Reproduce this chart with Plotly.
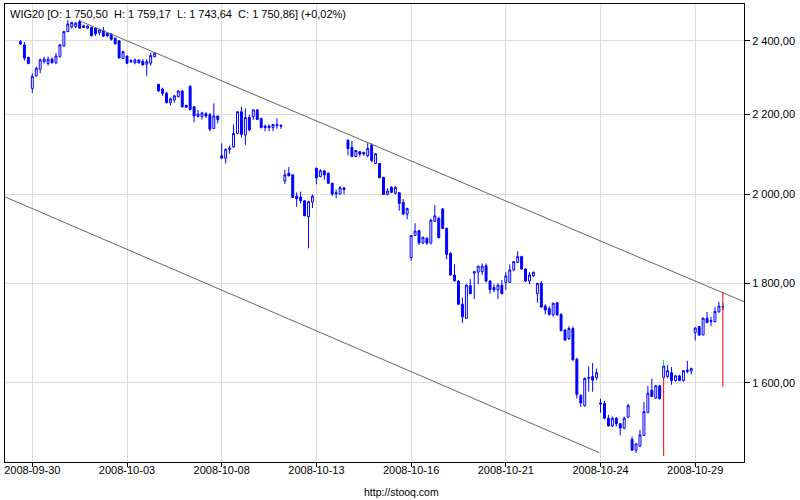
import math
import plotly.graph_objects as go

# ---- data: hourly WIG20 bars (index 0 = first bar of 2008-09-30, 8 bars per session) ----
bar_index = list(range(-3, 176))

open_ = [
    2397, 2388, 2353,
    2268, 2302, 2320, 2341, 2336, 2348, 2338, 2355,
    2385, 2426, 2440, 2440, 2455, 2438, 2436, 2438,
    2436, 2423, 2429, 2421, 2419, 2407, 2400, 2350,
    2357, 2344, 2338, 2346, 2342, 2334, 2337, 2355,
    2279, 2266, 2255, 2230, 2237, 2246, 2261, 2223,
    2273, 2219, 2194, 2193, 2201, 2198, 2163, 2195,
    2094, 2088, 2110, 2116, 2150, 2206, 2146, 2191,
    2193, 2211, 2189, 2169, 2169, 2165, 2170, 2171,
    2032, 2051, 2047, 1996, 1994, 1985, 1948, 1982,
    2063, 2043, 2057, 2051, 2027, 2004, 2001, 2016,
    2133, 2115, 2092, 2104, 2102, 2094, 2121, 2075,
    2075, 2041, 2000, 2017, 2003, 2004, 1981, 1954,
    1856, 1905, 1916, 1888, 1899, 1888, 1937, 1944,
    1966, 1921, 1865, 1818, 1805, 1756, 1727, 1795,
    1822, 1824, 1825, 1838, 1805, 1791, 1786, 1796,
    1802, 1802, 1829, 1845, 1858, 1831, 1805, 1816,
    1778, 1800, 1752, 1747, 1734, 1759, 1735, 1703,
    1686, 1706, 1645, 1576, 1557, 1608, 1612, 1610,
    1562, 1561, 1534, 1520, 1534, 1524, 1516, 1536,
    1496, 1477, 1484, 1503, 1544, 1586, 1571, 1594,
    1610, 1612, 1619, 1604, 1613, 1604, 1624, 1622,
    1698, 1710, 1693, 1727, 1720, 1720, 1740, 1750.50,
]

high_ = [
    2402, 2396, 2355,
    2309, 2327, 2350, 2355, 2355, 2353, 2365, 2390,
    2428, 2460, 2455, 2455, 2460, 2446, 2444, 2440,
    2438, 2433, 2439, 2423, 2421, 2409, 2400, 2371,
    2357, 2348, 2350, 2347, 2348, 2348, 2366, 2368,
    2280, 2270, 2259, 2244, 2250, 2264, 2264, 2224,
    2277, 2221, 2211, 2206, 2205, 2203, 2228, 2195,
    2125, 2112, 2119, 2173, 2208, 2219, 2215, 2198,
    2211, 2211, 2190, 2173, 2173, 2173, 2189, 2173,
    2059, 2066, 2049, 2005, 2007, 1987, 1985, 2000,
    2065, 2061, 2057, 2053, 2028, 2012, 2020, 2016,
    2135, 2131, 2108, 2104, 2104, 2125, 2125, 2101,
    2076, 2042, 2015, 2020, 2020, 2006, 1989, 1969,
    1906, 1933, 1918, 1902, 1901, 1944, 1975, 1948,
    1968, 1923, 1868, 1841, 1807, 1770, 1798, 1809,
    1826, 1838, 1843, 1843, 1807, 1798, 1800, 1807,
    1824, 1841, 1848, 1870, 1860, 1832, 1824, 1825,
    1801, 1805, 1756, 1752, 1759, 1760, 1737, 1705,
    1711, 1710, 1648, 1578, 1610, 1631, 1638, 1627,
    1570, 1566, 1540, 1537, 1536, 1525, 1537, 1560,
    1501, 1489, 1513, 1564, 1594, 1608, 1596, 1596,
    1632, 1634, 1630, 1615, 1615, 1624, 1642, 1629,
    1709, 1711, 1729, 1740, 1730, 1750, 1761, 1759.17,
]

low_ = [
    2388, 2344, 2334,
    2256, 2300, 2309, 2336, 2330, 2336, 2334, 2353,
    2383, 2426, 2434, 2436, 2436, 2436, 2434, 2412,
    2414, 2416, 2411, 2411, 2400, 2390, 2349, 2348,
    2334, 2338, 2334, 2336, 2331, 2302, 2330, 2353,
    2259, 2248, 2228, 2223, 2230, 2244, 2218, 2216,
    2209, 2179, 2191, 2186, 2190, 2155, 2161, 2176,
    2088, 2075, 2099, 2114, 2148, 2140, 2121, 2156,
    2185, 2185, 2163, 2155, 2156, 2156, 2162, 2162,
    2025, 2043, 1992, 1971, 1979, 1950, 1876, 1968,
    2024, 2041, 2035, 2025, 1996, 1991, 2000, 2000,
    2095, 2092, 2090, 2092, 2094, 2090, 2078, 2074,
    2040, 1999, 1998, 2003, 2000, 1962, 1952, 1942,
    1849, 1904, 1884, 1886, 1884, 1885, 1936, 1899,
    1921, 1852, 1816, 1805, 1754, 1717, 1726, 1777,
    1767, 1798, 1818, 1802, 1778, 1781, 1767, 1777,
    1786, 1801, 1826, 1845, 1829, 1803, 1798, 1814,
    1759, 1749, 1735, 1732, 1730, 1732, 1700, 1682,
    1683, 1642, 1570, 1555, 1555, 1583, 1583, 1605,
    1544, 1532, 1519, 1518, 1519, 1503, 1514, 1534,
    1476, 1472, 1483, 1502, 1544, 1573, 1570, 1568,
    1610, 1608, 1596, 1602, 1603, 1602, 1618, 1616,
    1682, 1691, 1693, 1717, 1711, 1719, 1739, 1743.64,
]

close_ = [
    2391, 2351, 2336,
    2301, 2323, 2346, 2348, 2348, 2338, 2357, 2388,
    2426, 2448, 2452, 2450, 2436, 2443, 2442, 2414,
    2419, 2431, 2413, 2414, 2404, 2391, 2352, 2369,
    2337, 2341, 2346, 2338, 2332, 2341, 2358, 2365,
    2261, 2255, 2230, 2240, 2248, 2261, 2219, 2218,
    2212, 2195, 2200, 2203, 2195, 2161, 2195, 2186,
    2088, 2110, 2113, 2150, 2206, 2148, 2191, 2159,
    2211, 2186, 2165, 2165, 2165, 2173, 2173, 2169,
    2047, 2045, 1993, 1990, 1985, 1950, 1983, 1996,
    2040, 2057, 2047, 2027, 2001, 2002, 2016, 2012,
    2112, 2092, 2107, 2098, 2098, 2112, 2082, 2099,
    2040, 2000, 2008, 2005, 2017, 1979, 1954, 1967,
    1905, 1915, 1888, 1901, 1888, 1940, 1950, 1900,
    1921, 1863, 1818, 1805, 1756, 1730, 1796, 1778,
    1825, 1837, 1837, 1805, 1787, 1786, 1796, 1778,
    1816, 1829, 1847, 1858, 1831, 1805, 1818, 1824,
    1800, 1750, 1744, 1735, 1758, 1734, 1702, 1683,
    1706, 1644, 1578, 1562, 1608, 1610, 1605, 1619,
    1560, 1534, 1520, 1534, 1524, 1516, 1534, 1557,
    1477, 1488, 1504, 1546, 1580, 1574, 1594, 1570,
    1632, 1623, 1604, 1613, 1604, 1623, 1622, 1627,
    1707, 1693, 1727, 1718, 1722, 1741, 1752, 1750.86,
]

assert len(open_) == len(high_) == len(low_) == len(close_) == len(bar_index)

# session starts shown on the time axis
day_start_index = [0, 24, 48, 72, 96, 120, 144, 168]
day_labels = ["2008-09-30", "2008-10-03", "2008-10-08", "2008-10-13",
              "2008-10-16", "2008-10-21", "2008-10-24", "2008-10-29"]

price_ticks = [1600, 1800, 2000, 2200, 2400]
price_tick_labels = ["1 600,00", "1 800,00", "2 000,00", "2 200,00", "2 400,00"]

# trend channel (bar index, price)
upper_trend_x = [12.1, 180.4]
upper_trend_y = [2456.7, 1761.2]
lower_trend_x = [-6.9, 143.7]
lower_trend_y = [1994.3, 1472.6]

# highlighted bars (green / red ticks)
mark_x = [160, 175]
green_lo = [1632, 1753]
green_hi = [1644, 1759]
red_lo = [1467, 1592]
red_hi = [1610, 1782]

x_range = [-6.92, 180.36]
y_range = [1456.4, 2506.7]

BLUE = "#0000ff"
FONT = "Liberation Sans, Arial, sans-serif"
TITLE_FONT = "Liberation Sans Narrow, Arial Narrow, Liberation Sans, sans-serif"

fig = go.Figure()

for tx, ty in ((upper_trend_x, upper_trend_y), (lower_trend_x, lower_trend_y)):
    fig.add_trace(go.Scatter(x=tx, y=ty, mode="lines",
                             line=dict(color="#666666", width=1),
                             hoverinfo="skip", showlegend=False))

fig.add_trace(go.Candlestick(
    x=bar_index, open=open_, high=high_, low=low_, close=close_,
    increasing=dict(line=dict(color=BLUE, width=1), fillcolor="#ffffff"),
    decreasing=dict(line=dict(color=BLUE, width=1), fillcolor=BLUE),
    whiskerwidth=0, hoverinfo="skip", showlegend=False,
))

def segs(xs, lo, hi):
    sx, sy = [], []
    for a, b, c in zip(xs, lo, hi):
        sx += [a, a, None]
        sy += [b, c, None]
    return sx, sy

rx, ry = segs(mark_x, red_lo, red_hi)
fig.add_trace(go.Scatter(x=rx, y=ry, mode="lines", line=dict(color="#ff0000", width=1),
                         hoverinfo="skip", showlegend=False))
gx, gy = segs(mark_x, green_lo, green_hi)
fig.add_trace(go.Scatter(x=gx, y=gy, mode="lines", line=dict(color="#00e000", width=1),
                         hoverinfo="skip", showlegend=False))

NB = "\u00a0"
title_text = (f"WIG20 [O: 1{NB}750,50{NB}{NB}H: 1{NB}759,17{NB}{NB}L: 1{NB}743,64"
              f"{NB}{NB}C: 1{NB}750,86] (+0,02%)")

fig.update_layout(
    width=800, height=500,
    margin=dict(l=5, r=56, t=4, b=38),
    paper_bgcolor="white", plot_bgcolor="white",
    font=dict(family=FONT, color="black", size=11),
    showlegend=False,
    xaxis=dict(
        range=x_range, tickmode="array", tickvals=day_start_index, ticktext=day_labels,
        showgrid=True, gridcolor="#dddddd", gridwidth=1, zeroline=False,
        showline=True, linecolor="black", linewidth=1, mirror=True,
        ticks="outside", ticklen=4, tickcolor="black", ticklabelstandoff=-6,
        tickfont=dict(family=FONT, size=11, color="black"),
        rangeslider=dict(visible=False), fixedrange=True, automargin=False,
    ),
    yaxis=dict(
        type="log", range=[math.log10(y_range[0]), math.log10(y_range[1])],
        side="right", tickmode="array", tickvals=price_ticks, ticktext=price_tick_labels,
        showgrid=True, gridcolor="#dddddd", gridwidth=1, zeroline=False,
        showline=True, linecolor="black", linewidth=1, mirror=True,
        ticks="outside", ticklen=5, tickcolor="black",
        tickfont=dict(family=FONT, size=11, color="black"), fixedrange=True,
        automargin=False,
    ),
    annotations=[
        dict(text=title_text, xref="paper", yref="paper", x=0, y=1,
             xanchor="left", yanchor="top", xshift=3, yshift=-2, showarrow=False,
             font=dict(family=TITLE_FONT, size=11, color="black")),
        dict(text="http://stooq.com", xref="paper", yref="paper",
             x=(401 - 5) / 739, y=-(492 - 462) / 458, xanchor="center", yanchor="middle",
             showarrow=False, font=dict(family=FONT, size=10.5, color="black")),
    ],
)

fig.write_html("out.html", config={"displayModeBar": False},
               post_script="document.body.style.margin='0';")
